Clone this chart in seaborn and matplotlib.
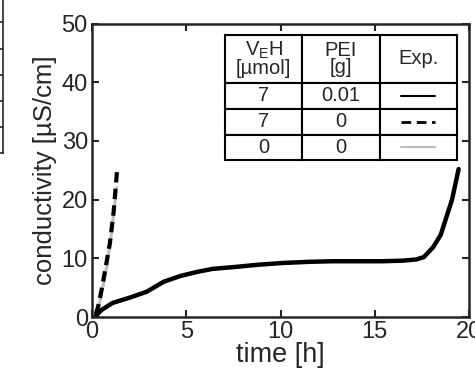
import matplotlib
matplotlib.use("Agg")
import matplotlib.pyplot as plt
import seaborn as sns
import pandas as pd
from matplotlib.lines import Line2D

# ---- data ----
t_pei = [0.15, 0.5, 1.1, 2.0, 2.9, 3.8, 4.7, 5.6, 6.4, 7.5, 8.8, 10.1, 11.5,
         12.8, 14.0, 15.4, 16.5, 17.2, 17.6, 18.1, 18.5, 18.8, 19.1, 19.45]
c_pei = [0.0, 1.2, 2.4, 3.3, 4.3, 6.0, 7.0, 7.7, 8.2, 8.5, 8.9, 9.2, 9.4,
         9.5, 9.5, 9.5, 9.6, 9.8, 10.2, 11.9, 14.0, 17.0, 20.0, 25.2]
t_nopei = [0.2, 0.32, 0.5, 0.7, 0.95, 1.15, 1.33]
c_nopei = [0.5, 1.7, 4.5, 8.0, 12.6, 18.0, 25.0]
t_blank = [0.25, 0.4, 0.6, 0.8, 1.0, 1.2, 1.3]
c_blank = [0.4, 2.3, 5.5, 9.0, 13.5, 19.0, 22.0]

x_ticks = [0, 5, 10, 15, 20]
y_ticks = [0, 10, 20, 30, 40, 50]

table_header = ["V$_\\mathregular{E}$H\n[\u00b5mol]", "PEI\n[g]", "Exp."]
table_rows = [["7", "0.01", ""], ["7", "0", ""], ["0", "0", ""]]

sns.set_style("ticks")
plt.rcParams["font.family"] = ["Liberation Sans", "DejaVu Sans"]
plt.rcParams["mathtext.fontset"] = "custom"
plt.rcParams["mathtext.rm"] = "Liberation Sans"

fig = plt.figure(figsize=(4.75, 3.71), dpi=100)
ax = fig.add_axes([92 / 475, 1 - 317 / 371, 377 / 475, 293.5 / 371])

# fragment of neighbouring panel at left edge
ax0 = fig.add_axes([-0.5, 1 - 153 / 371, 0.5 + 3 / 475, 153 / 371 + 0.01])
ax0.set_xlim(0, 1)
ax0.set_ylim(0, 6)
for s in ["top", "left"]:
    ax0.spines[s].set_visible(False)
for s in ["right", "bottom"]:
    ax0.spines[s].set_linewidth(1.2)
ax0.yaxis.tick_right()
ax0.set_yticks([1, 2, 3, 4, 5])
ax0.tick_params(axis="y", direction="in", length=4, width=1.2, labelright=False)
ax0.set_xticks([])

df1 = pd.DataFrame({"t": t_pei, "c": c_pei})
df2 = pd.DataFrame({"t": t_nopei, "c": c_nopei})
df3 = pd.DataFrame({"t": t_blank, "c": c_blank})

sns.lineplot(data=df3, x="t", y="c", ax=ax, color="#bdbdbd", lw=2.2, sort=False)
sns.lineplot(data=df2, x="t", y="c", ax=ax, color="black", lw=3.0,
             linestyle=(0, (2.5, 1.5)), sort=False)
sns.lineplot(data=df1, x="t", y="c", ax=ax, color="black", lw=3.2, sort=False)

ax.set_xlim(0, 20)
ax.set_ylim(0, 50)
ax.set_xticks(x_ticks)
ax.set_yticks(y_ticks)
ax.tick_params(direction="in", length=5, width=1.5, labelsize=17,
               top=True, right=True, pad=3)
for s in ax.spines.values():
    s.set_linewidth(1.8)
    s.set_visible(True)
ax.set_xlabel("time [h]", fontsize=19.5, labelpad=-1)
ax.set_ylabel("conductivity [\u00b5S/cm]", fontsize=18.5, labelpad=3)

# table
cells = [table_header] + table_rows
tb = ax.table(cellText=cells, bbox=[0.353, 0.535, 0.615, 0.426],
              cellLoc="center", zorder=5)
tb.auto_set_font_size(False)
heights = [48, 26, 26, 25]
total = sum(heights)
for (r, c), cell in tb.get_celld().items():
    cell.set_linewidth(1.5)
    cell.set_edgecolor("black")
    cell.set_facecolor("white")
    cell.set_height(0.426 * heights[r] / total)
    cell.get_text().set_fontsize(14.5)
    if r == 0:
        cell.get_text().set_linespacing(0.9)

# line samples in Exp. column
x0 = 0.353 + 0.615 * (2 / 3) + 0.057
x1 = 0.353 + 0.615 - 0.057
ys = []
acc = 0.535 + 0.426
for h in heights:
    ys.append(acc - 0.426 * h / total / 2)
    acc -= 0.426 * h / total
styles = [dict(color="black", lw=1.5, ls="-"),
          dict(color="black", lw=2.0, ls=(0, (3.5, 2))),
          dict(color="#bdbdbd", lw=1.5, ls="-")]
for y, st in zip(ys[1:], styles):
    ax.add_line(Line2D([x0, x1], [y, y], transform=ax.transAxes, zorder=6, **st))

fig.savefig("out.png", dpi=100)
